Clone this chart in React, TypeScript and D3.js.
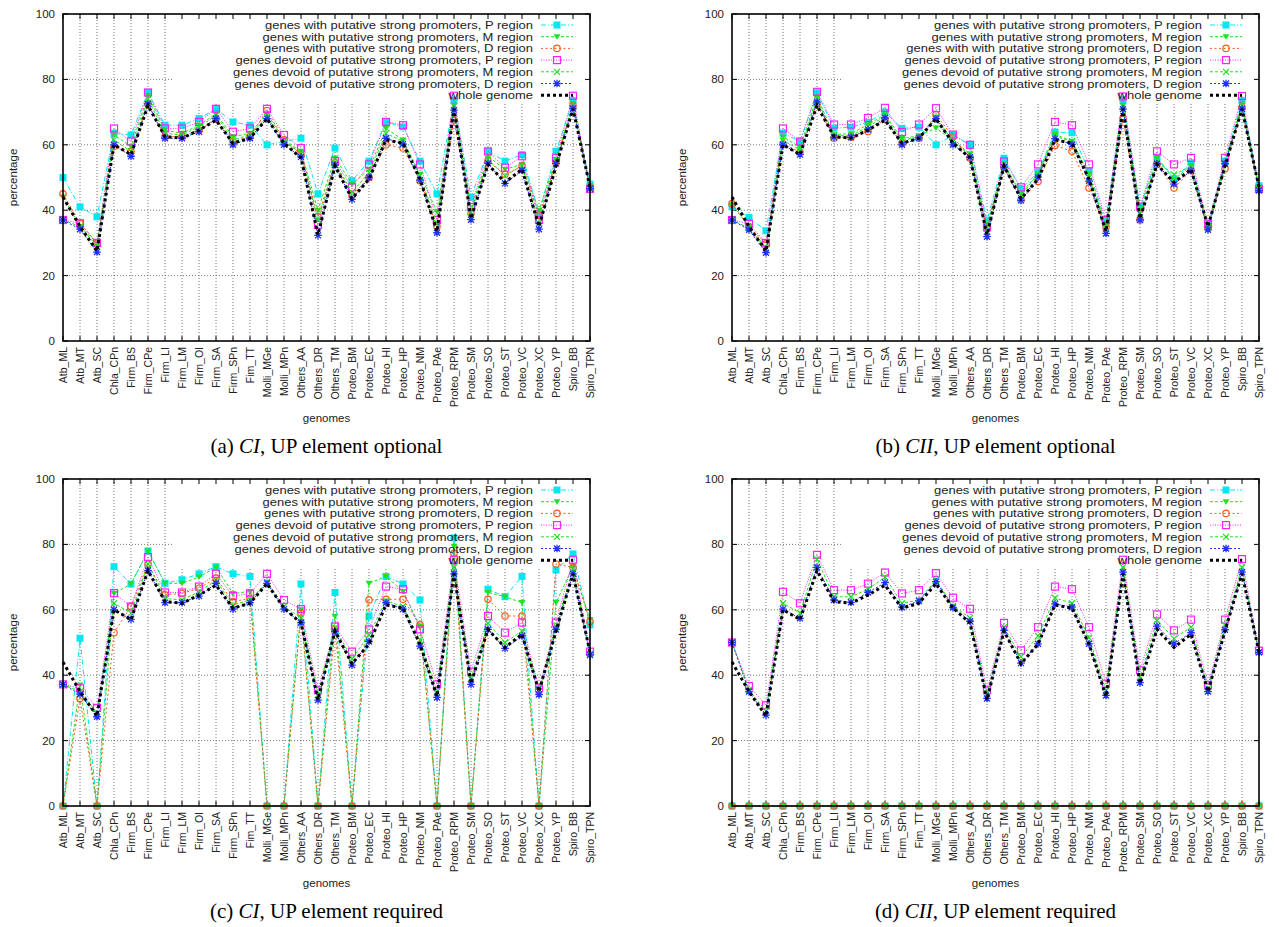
import React from "react";
import * as d3 from "d3";

const CATEGORIES = [
  "Atb_ML", "Atb_MT", "Atb_SC", "Chla_CPn", "Firm_BS", "Firm_CPe", "Firm_LI", "Firm_LM",
  "Firm_OI", "Firm_SA", "Firm_SPn", "Fim_TT", "Molli_MGe", "Molli_MPn", "Others_AA", "Others_DR",
  "Others_TM", "Proteo_BM", "Proteo_EC", "Proteo_HI", "Proteo_HP", "Proteo_NM", "Proteo_PAe", "Proteo_RPM",
  "Proteo_SM", "Proteo_SO", "Proteo_ST", "Proteo_VC", "Proteo_XC", "Proteo_YP", "Spiro_BB", "Spiro_TPN",
];

const Y_TICKS = [0, 20, 40, 60, 80, 100];

const LEGEND_LABELS = [
  "genes with putative strong promoters, P region",
  "genes with putative strong promoters, M region",
  "genes with putative strong promoters, D region",
  "genes devoid of putative strong promoters, P region",
  "genes devoid of putative strong promoters, M region",
  "genes devoid of putative strong promoters, D region",
  "whole genome",
];
// panel (b) has a doubled word in the third entry
const LEGEND_LABELS_B = [
  "genes with putative strong promoters, P region",
  "genes with putative strong promoters, M region",
  "genes with with putative strong promoters, D region",
  "genes devoid of putative strong promoters, P region",
  "genes devoid of putative strong promoters, M region",
  "genes devoid of putative strong promoters, D region",
  "whole genome",
];

// whole genome, same in every panel
const wholeGenome = [44, 35, 27.5, 60, 57, 72, 62.5, 62, 64.5, 67.5, 60.5, 62, 68, 60.5, 56, 32.5, 53.5, 43.5, 49.5, 61.5, 60.5, 49.5, 33.5, 71, 37.5, 54, 48.5, 52.5, 35, 53.5, 71, 47];

// (a) CI, UP element optional
const withP_a = [50, 41, 38, 63.5, 63, 76, 66, 66, 68, 71, 67, 66, 60, 61, 62, 45, 59, 49, 55, 67, 65.5, 55, 45, 73.5, 44, 58, 55, 57, 39, 58, 73.5, 48];
const withM_a = [44, 35, 30, 63, 59.5, 75, 64.5, 63.5, 66, 69.5, 62.5, 63.5, 69.5, 61.5, 58, 40, 56, 48, 52.5, 65, 61.5, 51, 39.5, 72, 40, 56.5, 52.5, 54, 40, 55.5, 72.5, 47.5];
const withD_a = [45, 36, 30, 59.5, 58, 72.5, 62.5, 62.5, 64.5, 68, 61, 62.5, 70.5, 61.5, 57, 38, 54.5, 44.5, 50, 60, 59, 49, 35, 67.5, 39, 55, 51, 53.5, 38.5, 54.5, 72, 47];
const devoidP_a = [37, 36, 30, 65, 61, 76, 65, 65, 67, 71, 64, 65, 71, 63, 59, 35.5, 55, 47, 54, 67, 66, 54, 37, 75, 41, 58, 53, 56.5, 37, 56, 75, 46.5];
const devoidM_a = [37, 35, 29, 61.5, 58, 74, 63.5, 63, 65.5, 69, 61.5, 63, 68.5, 61, 57.5, 37, 54.5, 45.5, 51.5, 63.5, 61, 50.5, 36, 72, 39.5, 55.5, 50.5, 53.5, 36, 55, 72.5, 46.5];
const devoidD_a = [37, 34.2, 27.2, 60, 56.5, 72.5, 62, 62, 64, 68, 60, 62, 68, 60, 56.3, 32.3, 53.8, 43.3, 50, 62, 60.2, 49.2, 33.1, 70.6, 37.1, 54.3, 48.2, 52.2, 34.2, 54.3, 71.1, 46.6];

// (b) CII, UP element optional
const withP_b = [41, 37.8, 33.7, 63.6, 61, 75.9, 65.1, 65.4, 66.9, 70, 65, 65.4, 60, 62.9, 60, 36.8, 55.9, 46.5, 51.6, 63.9, 63.7, 52.1, 36.3, 73.8, 40.9, 56.2, 49.6, 54.5, 35, 55, 73.5, 47.5];
const withM_b = [41.7, 35, 28.5, 62.4, 59.3, 74.6, 63.1, 63.4, 66.2, 69.2, 61.9, 62.8, 65.1, 61.3, 57.3, 35.3, 54.2, 45.2, 51.1, 63.2, 61.1, 51.1, 35.3, 72, 39.9, 56, 49.3, 53.7, 34.8, 53.7, 72.5, 47];
const withD_b = [42, 35, 29.7, 60.3, 57.8, 72.3, 62, 62.3, 64.1, 67.7, 60.5, 62, 69.2, 62.4, 56, 34.3, 53.2, 43.1, 48.8, 59.8, 58, 46.8, 34.8, 68, 37, 54, 46.8, 52.2, 34.8, 52.7, 71.5, 46.5];
const devoidP_b = [37, 35.8, 30, 65, 61, 76.2, 66.2, 66.2, 68.2, 71.3, 63.9, 66.2, 71.2, 63.1, 60, 34.8, 54.9, 47, 54, 67, 66, 54, 37, 74.8, 41.1, 58, 54, 56, 35.8, 56, 74.9, 46.5];
const devoidM_b = [37, 34.5, 28, 61.3, 58.5, 73.8, 62.8, 62.8, 65.5, 68.7, 61.3, 62.5, 68.5, 61, 57, 33.5, 54, 44.5, 51, 62.6, 61, 50, 34.5, 72, 39, 54.7, 50.9, 53.5, 34.8, 54.5, 72, 46.5];
const devoidD_b = [37, 34, 27, 60, 57, 73.1, 62.3, 62.3, 64.7, 68.2, 60, 62.1, 68, 60, 56.2, 31.9, 53.2, 43, 50.1, 61.9, 60.1, 48.9, 32.9, 70.9, 37, 54.2, 48, 52.1, 34, 54.2, 71, 46];

// (c) CI, UP element required
const withP_c = [0, 51.3, 0, 73.2, 67.9, 78, 68.1, 69.2, 71, 73.2, 71, 70.2, 0, 0, 67.9, 0, 65.3, 0, 58.1, 70.2, 67.9, 63, 0, 82, 0, 66.3, 64, 70.2, 0, 72.2, 77.1, 55.4];
const withM_c = [0, 37, 0, 65, 67.9, 78, 68.1, 68.1, 70, 73, 65, 65.6, 0, 0, 60, 0, 58, 0, 68.1, 70.2, 65.6, 55, 0, 79.4, 0, 65.3, 64, 62.2, 0, 62.2, 73.2, 57];
const withD_c = [0, 32.9, 0, 53, 61, 74, 64.6, 65, 66.6, 69.7, 62.5, 63.5, 0, 0, 59, 0, 54, 0, 63, 63.2, 63.2, 55.4, 0, 77.3, 0, 63.2, 58.1, 58.1, 0, 74, 73, 56.4];
const devoidP_c = [37.2, 36, 30, 65.1, 61, 76.1, 65.3, 65.3, 67.1, 71, 64.2, 65, 71, 63, 60.2, 35.4, 54.9, 47.2, 54, 67.1, 66.3, 54, 37.2, 75.3, 41.1, 58.1, 53, 56.1, 36, 56.1, 75.3, 47.2];
const devoidM_c = [37.2, 35, 28.5, 62, 59, 74, 63.5, 63, 65.5, 69, 61.5, 63, 68.5, 61, 57.5, 34, 54.5, 45, 52.3, 62.8, 61, 50.8, 35, 73, 39, 55.9, 50, 53.5, 35, 55, 72.5, 46.5];
const devoidD_c = [37.2, 34.2, 27.3, 60, 57.1, 72, 62.2, 62.2, 64.2, 68.1, 60.2, 62.2, 68.1, 60.2, 56.1, 32.4, 53.3, 43.1, 50.3, 62.2, 60.2, 48.9, 33.2, 71, 37.2, 54, 48.2, 52, 34.1, 54, 71, 46.2];

// (d) CII, UP element required
const withP_d = [0, 0, 0, 0, 0, 0, 0, 0, 0, 0, 0, 0, 0, 0, 0, 0, 0, 0, 0, 0, 0, 0, 0, 0, 0, 0, 0, 0, 0, 0, 0, 0];
const withM_d = [0, 0, 0, 0, 0, 0, 0, 0, 0, 0, 0, 0, 0, 0, 0, 0, 0, 0, 0, 0, 0, 0, 0, 0, 0, 0, 0, 0, 0, 0, 0, 0];
const withD_d = [0, 0, 0, 0, 0, 0, 0, 0, 0, 0, 0, 0, 0, 0, 0, 0, 0, 0, 0, 0, 0, 0, 0, 0, 0, 0, 0, 0, 0, 0, 0, 0];
const devoidP_d = [50, 36.7, 30.8, 65.5, 62, 76.8, 66, 66, 68, 71.4, 65, 66, 71.2, 63.7, 60.3, 35.4, 56, 47.6, 54.7, 67.1, 66.3, 54.7, 37.4, 75.3, 41.5, 58.6, 53.7, 57, 36.9, 57, 75.5, 47.5];
const devoidM_d = [50, 35.5, 29, 62, 59, 75.5, 64, 64, 66.3, 70, 62, 63, 69.2, 61.2, 57.5, 34.4, 54.7, 45.6, 52, 63.6, 62, 51.5, 35.4, 73, 39.5, 56.8, 51.2, 54.7, 35.9, 55.4, 73, 47];
const devoidD_d = [50, 35, 27.8, 60.2, 57.4, 73, 63, 62.3, 65.3, 68.3, 60.8, 62.7, 68.6, 60.7, 56.5, 32.9, 53.7, 43.7, 49.6, 61.8, 60.8, 49.6, 33.8, 71.5, 37.7, 55, 49.6, 53, 35, 53.9, 71.5, 47];

// line styles, in the same order as the legend
const STYLES = [
  { color: "#00e8f0", dash: "5,2,1,2", width: 1, marker: "fsquare" },
  { color: "#22e022", dash: "3,2", width: 1, marker: "ftri" },
  { color: "#ff5a1a", dash: "2,2.5", width: 1, marker: "circle" },
  { color: "#ff20ff", dash: "1,1.5", width: 1, marker: "osquare" },
  { color: "#22e022", dash: "3,2", width: 1, marker: "cross" },
  { color: "#2030ff", dash: "2,2", width: 1, marker: "star" },
  { color: "#000000", dash: "3,3", width: 3, marker: "none" },
];

const PW = 527;
const PH = 327;
const FONT = "'Liberation Sans', Arial, Helvetica, sans-serif";

function Marker({ kind, x, y, color }) {
  if (kind === "fsquare") return <rect x={x - 3.5} y={y - 3.5} width={7} height={7} fill={color} />;
  if (kind === "ftri") return <path d={`M${x - 3.5},${y - 2.5}L${x + 3.5},${y - 2.5}L${x},${y + 3}Z`} fill={color} />;
  if (kind === "circle") return <circle cx={x} cy={y} r={3.2} fill="none" stroke={color} strokeWidth={1.2} />;
  if (kind === "osquare") return <rect x={x - 3.5} y={y - 3.5} width={7} height={7} fill="none" stroke={color} strokeWidth={1.2} />;
  if (kind === "cross")
    return <path d={`M${x - 3},${y - 3}L${x + 3},${y + 3}M${x - 3},${y + 3}L${x + 3},${y - 3}`} stroke={color} strokeWidth={1.2} />;
  if (kind === "star")
    return (
      <path
        d={`M${x - 3},${y - 3}L${x + 3},${y + 3}M${x - 3},${y + 3}L${x + 3},${y - 3}M${x - 3.8},${y}L${x + 3.8},${y}M${x},${y - 3.8}L${x},${y + 3.8}`}
        stroke={color}
        strokeWidth={1.3}
      />
    );
  return null;
}

function Panel({ left, top, series, labels, tag, caption }) {
  const x = d3.scalePoint().domain(CATEGORIES).range([0, PW]);
  const y = d3.scaleLinear().domain([0, 100]).range([PH, 0]);
  const line = d3
    .line<number>()
    .x((_, i) => x(CATEGORIES[i]))
    .y((d) => y(d));

  const keyLeft = 110;
  const keyBottom = 89;
  const textRight = PW - 57;

  return (
    <g transform={`translate(${left},${top})`}>
      {/* grid */}
      {CATEGORIES.slice(1, -1).map((c) => (
        <line key={c} x1={x(c)} x2={x(c)} y1={0} y2={PH} stroke="#555" strokeWidth={0.8} strokeDasharray="1,2" />
      ))}
      {Y_TICKS.slice(1, -1).map((t) => (
        <line key={t} x1={0} x2={PW} y1={y(t)} y2={y(t)} stroke="#555" strokeWidth={0.8} strokeDasharray="1,2" />
      ))}
      {/* key area hides the grid */}
      <rect x={keyLeft} y={0} width={PW - keyLeft} height={keyBottom} fill="#fff" />

      {/* ticks, all four sides */}
      {CATEGORIES.map((c) => (
        <g key={c}>
          <line x1={x(c)} x2={x(c)} y1={PH} y2={PH - 5} stroke="#000" />
          <line x1={x(c)} x2={x(c)} y1={0} y2={5} stroke="#000" />
        </g>
      ))}
      {Y_TICKS.map((t) => (
        <g key={t}>
          <line x1={0} x2={5} y1={y(t)} y2={y(t)} stroke="#000" />
          <line x1={PW} x2={PW - 5} y1={y(t)} y2={y(t)} stroke="#000" />
          <text x={-8} y={y(t)} dy="0.35em" textAnchor="end" fontSize={11.5} fontFamily={FONT} fill="#222">
            {t}
          </text>
        </g>
      ))}
      {CATEGORIES.map((c) => (
        <text
          key={c}
          transform={`translate(${x(c)},${PH + 6}) rotate(-90)`}
          dy="0.35em"
          textAnchor="end"
          fontSize={10.5}
          fontFamily={FONT}
          fill="#222"
        >
          {c}
        </text>
      ))}

      {/* series */}
      {series.map((vals, si) => {
        const st = STYLES[si];
        return (
          <g key={si}>
            <path d={line(vals) || ""} fill="none" stroke={st.color} strokeWidth={st.width} strokeDasharray={st.dash} />
            {vals.map((v, i) => (
              <Marker key={i} kind={st.marker} x={x(CATEGORIES[i])} y={y(v)} color={st.color} />
            ))}
          </g>
        );
      })}

      {/* legend */}
      {labels.map((lab, i) => {
        const st = STYLES[i];
        const ly = 11 + i * 11.7;
        return (
          <g key={i}>
            <g transform={`translate(${textRight},${ly}) scale(1.12,1)`}>
              <text x={0} y={0} dy="0.35em" textAnchor="end" fontSize={11.6} fontFamily={FONT} fill="#222">
                {lab}
              </text>
            </g>
            <line x1={PW - 49} x2={PW - 17} y1={ly} y2={ly} stroke={st.color} strokeWidth={st.width} strokeDasharray={st.dash} />
            <Marker kind={st.marker} x={PW - 33} y={ly} color={st.color} />
          </g>
        );
      })}

      <rect x={0} y={0} width={PW} height={PH} fill="none" stroke="#000" strokeWidth={1.6} />

      <text x={PW / 2} y={PH + 81} textAnchor="middle" fontSize={11.5} fontFamily={FONT} fill="#222">
        genomes
      </text>
      <text
        transform={`translate(-46,${PH / 2}) rotate(-90)`}
        textAnchor="middle"
        fontSize={11.5}
        fontFamily={FONT}
        fill="#222"
      >
        percentage
      </text>
      <text x={PW / 2} y={PH + 112} textAnchor="middle" fontSize={21} fontFamily="'Liberation Serif', 'Times New Roman', serif">
        {tag} <tspan fontStyle="italic">{caption[0]}</tspan>
        {caption[1]}
      </text>
    </g>
  );
}

export default function App() {
  return (
    <svg width={1279} height={927} style={{ position: "absolute", left: 0, top: 0, background: "#fff" }}>
      <rect width={1279} height={927} fill="#fff" />
      <Panel
        left={63}
        top={14}
        series={[withP_a, withM_a, withD_a, devoidP_a, devoidM_a, devoidD_a, wholeGenome]}
        labels={LEGEND_LABELS}
        tag="(a)"
        caption={["CI", ", UP element optional"]}
      />
      <Panel
        left={732}
        top={14}
        series={[withP_b, withM_b, withD_b, devoidP_b, devoidM_b, devoidD_b, wholeGenome]}
        labels={LEGEND_LABELS_B}
        tag="(b)"
        caption={["CII", ", UP element optional"]}
      />
      <Panel
        left={63}
        top={479}
        series={[withP_c, withM_c, withD_c, devoidP_c, devoidM_c, devoidD_c, wholeGenome]}
        labels={LEGEND_LABELS}
        tag="(c)"
        caption={["CI", ", UP element required"]}
      />
      <Panel
        left={732}
        top={479}
        series={[withP_d, withM_d, withD_d, devoidP_d, devoidM_d, devoidD_d, wholeGenome]}
        labels={LEGEND_LABELS}
        tag="(d)"
        caption={["CII", ", UP element required"]}
      />
    </svg>
  );
}
